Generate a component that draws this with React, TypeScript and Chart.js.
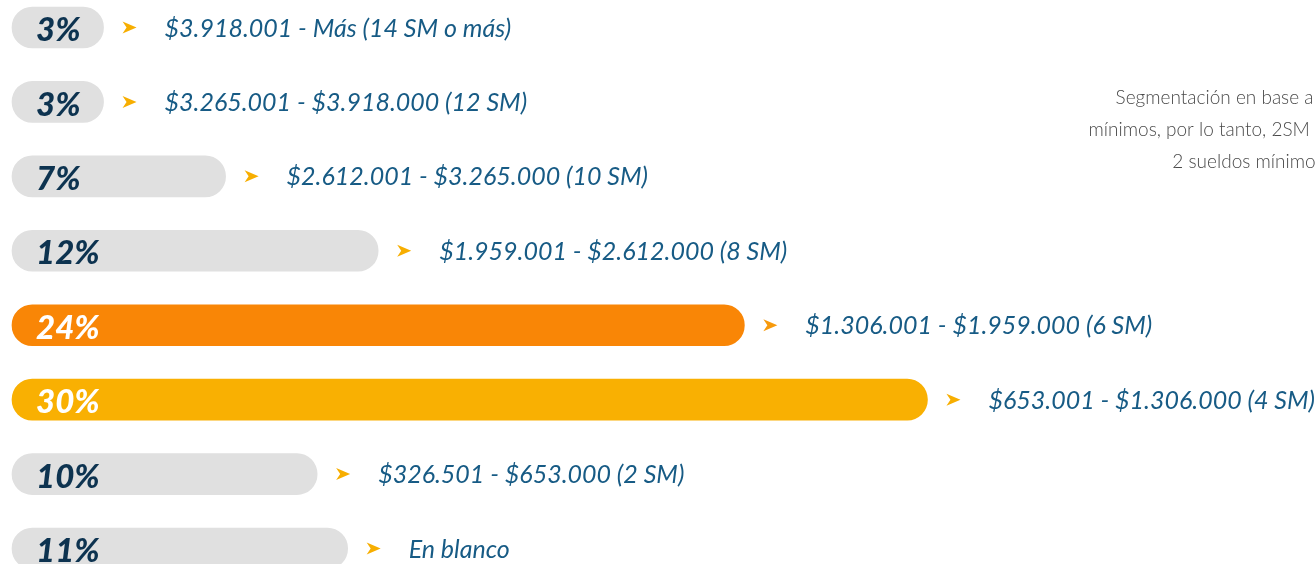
import React, { useEffect, useRef } from "react";
import { Chart, registerables } from "chart.js";

Chart.register(...registerables);

const categories: string[] = [
  "$3.918.001 - Más (14 SM o más)",
  "$3.265.001 - $3.918.000 (12 SM)",
  "$2.612.001 - $3.265.000 (10 SM)",
  "$1.959.001 - $2.612.000 (8 SM)",
  "$1.306.001 - $1.959.000 (6 SM)",
  "$653.001 - $1.306.000 (4 SM)",
  "$326.501 - $653.000 (2 SM)",
  "En blanco",
];
const values: number[] = [3, 3, 7, 12, 24, 30, 10, 11];
const barColors: string[] = ["#e0e0e0", "#e0e0e0", "#e0e0e0", "#e0e0e0", "#f98606", "#f9b002", "#e0e0e0", "#e0e0e0"];
const pctColors: string[] = ["#0d3350", "#0d3350", "#0d3350", "#0d3350", "#ffffff", "#ffffff", "#0d3350", "#0d3350"];
const arrowColors: string[] = ["#f7ae00", "#f7ae00", "#f7ae00", "#f7ae00", "#f79a0c", "#f7ae00", "#f7ae00", "#f7ae00"];
const noteLines: string[] = [
  "Segmentación en base a sueldos",
  "mínimos, por lo tanto, 2SM equivalen a",
  "2 sueldos mínimos",
];

const labelPlugin = {
  id: "labelPlugin",
  afterDatasetsDraw(chart: any) {
    const ctx = chart.ctx;
    const meta = chart.getDatasetMeta(0);
    const xScale = chart.scales.x;
    ctx.save();
    meta.data.forEach((bar: any, i: number) => {
      const y = bar.y;
      const startX = xScale.getPixelForValue(0);
      // percentage
      ctx.font = "italic 900 33px Lato";
      ctx.fillStyle = pctColors[i];
      ctx.textAlign = "left";
      ctx.textBaseline = "middle";
      ctx.fillText(values[i] + "%", startX + 24, y + 3);
      // arrow
      const ax = bar.x + 19;
      ctx.fillStyle = arrowColors[i];
      ctx.beginPath();
      ctx.moveTo(ax, y - 6);
      ctx.lineTo(ax + 14, y);
      ctx.lineTo(ax, y + 6);
      ctx.lineTo(ax + 4, y);
      ctx.closePath();
      ctx.fill();
      // range text
      ctx.font = "italic 25px Lato";
      ctx.fillStyle = "#175b85";
      ctx.fillText(categories[i], bar.x + 61, y + 1);
    });
    // note
    ctx.font = "300 19px Lato";
    ctx.fillStyle = "#4a4a4a";
    ctx.textAlign = "center";
    ctx.textBaseline = "middle";
    const cx = chart.chartArea.right - 67;
    noteLines.forEach((line, k) => {
      ctx.fillText(line, cx, 98 + k * 32);
    });
    ctx.restore();
  },
};

export default function App() {
  const ref = useRef<HTMLCanvasElement | null>(null);
  useEffect(() => {
    if (!ref.current) return;
    const chart = new Chart(ref.current, {
      type: "bar",
      data: {
        labels: categories,
        datasets: [
          {
            data: values,
            backgroundColor: barColors,
            borderRadius: 21,
            borderSkipped: false,
            barThickness: 41,
            clip: false as any,
          },
        ],
      },
      options: {
        indexAxis: "y",
        animation: false,
        responsive: true,
        maintainAspectRatio: false,
        layout: { padding: { left: 12, right: 0, top: 27.5, bottom: 15.5 } },
        plugins: { legend: { display: false }, tooltip: { enabled: false } },
        scales: {
          x: { display: false, min: 0, max: 42.7 },
          y: { display: false, offset: false },
        },
      },
      plugins: [labelPlugin],
    });
    return () => chart.destroy();
  }, []);
  return (
    <div style={{ position: "fixed", left: 0, top: 0, width: 1315, height: 564, background: "#ffffff" }}>
      <canvas ref={ref} />
    </div>
  );
}
